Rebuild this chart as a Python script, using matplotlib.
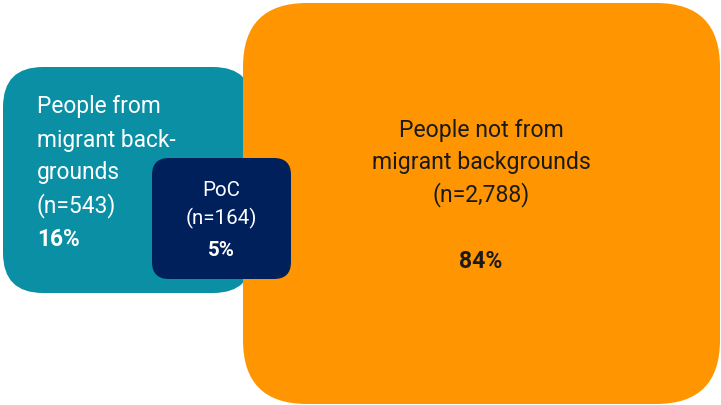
import matplotlib.pyplot as plt
from matplotlib.patches import FancyBboxPatch

plt.rcParams['font.family'] = ['Roboto', 'DejaVu Sans']

groups = ["People from\nmigrant back-\ngrounds", "PoC", "People not from\nmigrant backgrounds"]
counts = ["543", "164", "2,788"]
shares = [16, 5, 84]
colors = ["#0A8FA5", "#00205B", "#FF9500"]
text_colors = ["white", "white", "#1a1a1a"]

fig = plt.figure(figsize=(7.21, 4.05), dpi=100)
ax = fig.add_axes([0, 0, 1, 1])
ax.set_xlim(0, 721)
ax.set_ylim(405, 0)
ax.axis("off")

# boxes: (x, y, w, h, corner radius), pixel coords
boxes = [(3, 67, 250, 226, 40),
         (152, 158, 139, 121, 17),
         (243, 3, 477, 401, 64)]
order = [0, 2, 1]
for i in order:
    x, y, w, h, r = boxes[i]
    ax.add_patch(FancyBboxPatch((x, y), w, h, boxstyle=f"round,pad=0,rounding_size={r}",
                                fc=colors[i], ec="none", zorder=i if i != 1 else 5))

# teal group, left aligned
lines = groups[0].split("\n") + [f"(n={counts[0]})"]
for k, s in enumerate(lines):
    ax.text(37, 107 + 33 * k, s, fontsize=16.4, color=text_colors[0], va="center", ha="left", zorder=6)
ax.text(37, 240, f"{shares[0]}%", fontsize=16.4, fontweight="bold", color=text_colors[0],
        va="center", ha="left", zorder=6)

# PoC
lines = [groups[1], f"(n={counts[1]})"]
for k, s in enumerate(lines):
    ax.text(221, 191 + 27.5 * k, s, fontsize=14.8, color=text_colors[1], va="center", ha="center", zorder=6)
ax.text(221, 250, f"{shares[1]}%", fontsize=14.8, fontweight="bold", color=text_colors[1],
        va="center", ha="center", zorder=6)

# orange group
lines = groups[2].split("\n") + [f"(n={counts[2]})"]
for k, s in enumerate(lines):
    ax.text(481, 130 + 32.5 * k, s, fontsize=16.6, color=text_colors[2], va="center", ha="center", zorder=6)
ax.text(481, 262, f"{shares[2]}%", fontsize=16.6, fontweight="bold", color=text_colors[2],
        va="center", ha="center", zorder=6)

fig.savefig("out.png", dpi=100)
